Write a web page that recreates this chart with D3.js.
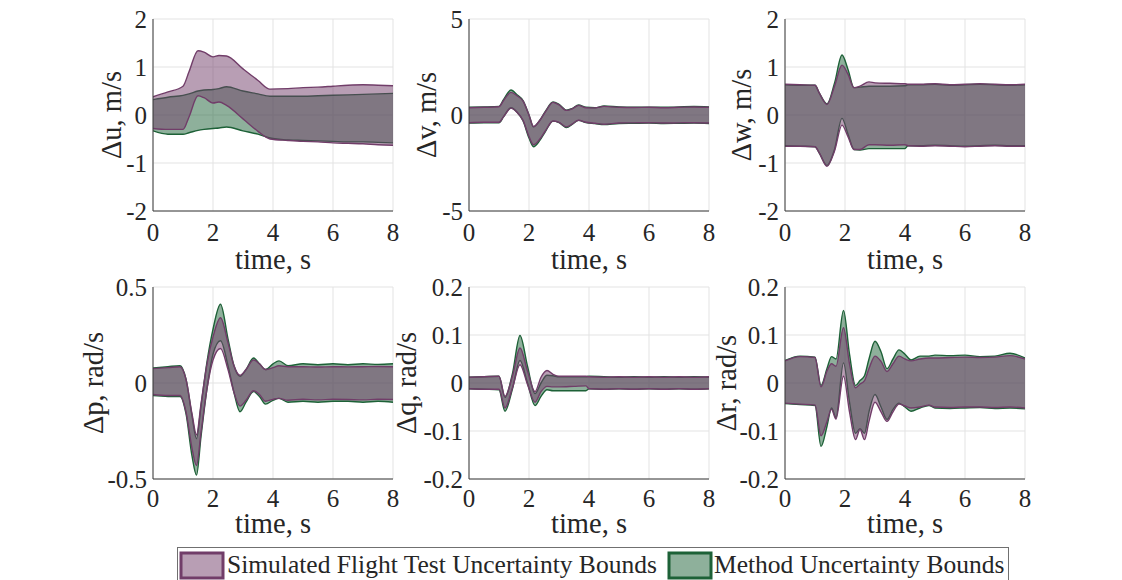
<!DOCTYPE html>
<html>
<head>
<meta charset="utf-8">
<script src="https://cdn.jsdelivr.net/npm/d3@7"></script>
<style>
  html, body { margin: 0; padding: 0; background: #ffffff; }
  svg { display: block; font-family: "Liberation Serif", "Times New Roman", serif; }
</style>
</head>
<body>
<svg id="chart" width="1122" height="580"></svg>
<script>
// ---- shared axis ticks ----
const xTicks = [0, 2, 4, 6, 8];
const xDomain = [0, 8];

// ---- Δu, m/s ----
const uTicks = [-2, -1, 0, 1, 2];
const uTime  = [0, 0.5, 1.0, 1.2, 1.5, 1.7, 2.0, 2.2, 2.45, 3.0, 3.5, 3.9, 4.5, 5, 5.5, 6, 6.5, 7, 7.5, 8];
const uSimHi = [0.38, 0.48, 0.60, 0.90, 1.34, 1.31, 1.21, 1.24, 1.23, 0.96, 0.72, 0.54, 0.55, 0.57, 0.58, 0.60, 0.62, 0.63, 0.62, 0.61];
const uSimLo = [-0.28, -0.30, -0.30, -0.04, 0.40, 0.36, 0.25, 0.27, 0.20, -0.08, -0.34, -0.50, -0.53, -0.55, -0.56, -0.58, -0.59, -0.60, -0.62, -0.63];
const uMetHi = [0.32, 0.37, 0.41, 0.44, 0.50, 0.52, 0.53, 0.55, 0.59, 0.50, 0.44, 0.39, 0.39, 0.39, 0.40, 0.41, 0.42, 0.43, 0.44, 0.45];
const uMetLo = [-0.33, -0.40, -0.40, -0.37, -0.32, -0.30, -0.28, -0.27, -0.25, -0.33, -0.40, -0.48, -0.52, -0.53, -0.54, -0.55, -0.56, -0.56, -0.57, -0.58];

// ---- Δv, m/s ----
const vTicks = [-5, 0, 5];
const vTime  = [0, 0.5, 1.0, 1.15, 1.4, 1.6, 1.8, 2.0, 2.15, 2.35, 2.55, 2.8, 3.0, 3.25, 3.45, 3.65, 3.9, 4.2, 4.5, 5, 5.5, 6, 6.5, 7, 7.5, 8];
const vSimHi = [0.38, 0.40, 0.43, 0.75, 1.18, 1.00, 0.73, 0.00, -0.60, -0.30, 0.18, 0.66, 0.53, 0.24, 0.33, 0.50, 0.38, 0.37, 0.45, 0.40, 0.39, 0.40, 0.38, 0.40, 0.42, 0.40];
const vSimLo = [-0.40, -0.38, -0.38, -0.10, 0.36, 0.14, -0.28, -1.12, -1.55, -1.28, -0.82, -0.31, -0.38, -0.62, -0.46, -0.27, -0.38, -0.43, -0.48, -0.42, -0.41, -0.40, -0.42, -0.41, -0.40, -0.42];
const vMetHi = [0.40, 0.42, 0.45, 0.80, 1.30, 1.05, 0.75, 0.00, -0.62, -0.30, 0.20, 0.68, 0.55, 0.25, 0.35, 0.52, 0.40, 0.38, 0.47, 0.42, 0.40, 0.41, 0.40, 0.42, 0.44, 0.42];
const vMetLo = [-0.42, -0.40, -0.40, -0.10, 0.38, 0.15, -0.30, -1.20, -1.65, -1.35, -0.85, -0.32, -0.40, -0.65, -0.48, -0.28, -0.40, -0.45, -0.50, -0.44, -0.43, -0.42, -0.44, -0.43, -0.42, -0.44];

// ---- Δw, m/s ----
const wTicks = [-2, -1, 0, 1, 2];
const wTime  = [0, 0.5, 1.0, 1.15, 1.4, 1.65, 1.9, 2.1, 2.3, 2.5, 2.8, 3.0, 3.5, 4.0, 4.1, 4.5, 5, 5.5, 6, 6.5, 7, 7.5, 8];
const wSimHi = [0.64, 0.63, 0.62, 0.45, 0.22, 0.60, 1.04, 0.85, 0.57, 0.60, 0.69, 0.67, 0.66, 0.65, 0.64, 0.64, 0.65, 0.63, 0.64, 0.65, 0.64, 0.63, 0.64];
const wSimLo = [-0.65, -0.65, -0.66, -0.80, -1.07, -0.75, -0.21, -0.45, -0.72, -0.72, -0.62, -0.62, -0.63, -0.62, -0.64, -0.65, -0.64, -0.65, -0.66, -0.65, -0.64, -0.65, -0.65];
const wMetHi = [0.63, 0.62, 0.62, 0.45, 0.23, 0.66, 1.25, 0.95, 0.57, 0.58, 0.60, 0.60, 0.60, 0.61, 0.63, 0.63, 0.64, 0.62, 0.63, 0.64, 0.63, 0.62, 0.63];
const wMetLo = [-0.64, -0.65, -0.66, -0.80, -1.05, -0.72, -0.07, -0.40, -0.72, -0.73, -0.70, -0.70, -0.70, -0.70, -0.64, -0.64, -0.63, -0.64, -0.65, -0.64, -0.63, -0.64, -0.64];

// ---- Δp, rad/s ----
const pTicks = [-0.5, 0, 0.5];
const pTime  = [0, 0.5, 0.9, 1.1, 1.3, 1.45, 1.6, 1.8, 2.0, 2.25, 2.5, 2.7, 2.9, 3.1, 3.35, 3.55, 3.75, 4.0, 4.2, 4.5, 5, 5.5, 6, 6.5, 7, 7.5, 8];
const pSimHi = [0.075, 0.08, 0.085, 0.02, -0.16, -0.27, -0.11, 0.10, 0.24, 0.34, 0.21, 0.09, 0.04, 0.07, 0.12, 0.10, 0.07, 0.08, 0.09, 0.085, 0.085, 0.083, 0.085, 0.084, 0.085, 0.086, 0.085];
const pSimLo = [-0.06, -0.065, -0.065, -0.15, -0.34, -0.43, -0.26, -0.03, 0.12, 0.18, 0.07, -0.05, -0.12, -0.09, -0.04, -0.06, -0.095, -0.085, -0.08, -0.09, -0.085, -0.088, -0.085, -0.086, -0.088, -0.085, -0.086];
const pMetHi = [0.078, 0.085, 0.09, 0.02, -0.17, -0.29, -0.12, 0.11, 0.28, 0.41, 0.23, 0.09, 0.035, 0.07, 0.13, 0.10, 0.07, 0.10, 0.115, 0.09, 0.10, 0.095, 0.10, 0.095, 0.10, 0.097, 0.10];
const pMetLo = [-0.066, -0.07, -0.07, -0.16, -0.38, -0.48, -0.28, -0.03, 0.15, 0.22, 0.09, -0.05, -0.15, -0.10, -0.045, -0.07, -0.11, -0.09, -0.08, -0.10, -0.095, -0.10, -0.095, -0.095, -0.10, -0.095, -0.10];

// ---- Δq, rad/s ----
const qTicks = [-0.2, -0.1, 0, 0.1, 0.2];
const qTime  = [0, 0.5, 1.0, 1.2, 1.45, 1.7, 1.95, 2.2, 2.4, 2.6, 2.8, 3.0, 3.5, 3.9, 4.0, 4.5, 5, 5.5, 6, 6.5, 7, 7.5, 8];
const qSimHi = [0.012, 0.013, 0.014, -0.028, 0.015, 0.073, 0.025, -0.018, 0.012, 0.026, 0.018, 0.014, 0.014, 0.014, 0.013, 0.012, 0.013, 0.012, 0.013, 0.012, 0.013, 0.012, 0.013];
const qSimLo = [-0.012, -0.013, -0.013, -0.052, -0.010, 0.038, -0.003, -0.040, -0.018, -0.007, -0.008, -0.008, -0.007, -0.006, -0.012, -0.013, -0.012, -0.013, -0.012, -0.013, -0.012, -0.013, -0.012];
const qMetHi = [0.012, 0.013, 0.014, -0.030, 0.020, 0.099, 0.035, -0.022, 0.000, 0.016, 0.015, 0.013, 0.013, 0.013, 0.014, 0.013, 0.012, 0.013, 0.012, 0.013, 0.012, 0.013, 0.012];
const qMetLo = [-0.012, -0.013, -0.014, -0.059, -0.012, 0.047, 0.000, -0.047, -0.028, -0.014, -0.016, -0.016, -0.016, -0.016, -0.012, -0.013, -0.012, -0.013, -0.012, -0.013, -0.012, -0.013, -0.012];

// ---- Δr, rad/s ----
const rTicks = [-0.2, -0.1, 0, 0.1, 0.2];
const rTime  = [0, 0.5, 1.0, 1.2, 1.4, 1.55, 1.7, 1.95, 2.15, 2.35, 2.5, 2.65, 2.8, 3.0, 3.2, 3.4, 3.6, 3.8, 4.0, 4.2, 4.5, 4.8, 5, 5.5, 6, 6.5, 7, 7.5, 8];
const rSimHi = [0.046, 0.055, 0.053, -0.008, 0.025, 0.040, 0.035, 0.115, 0.040, -0.010, -0.002, 0.005, 0.030, 0.056, 0.045, 0.024, 0.040, 0.056, 0.050, 0.046, 0.050, 0.052, 0.052, 0.053, 0.054, 0.053, 0.054, 0.057, 0.050];
const rSimLo = [-0.042, -0.044, -0.046, -0.110, -0.080, -0.055, -0.075, 0.014, -0.060, -0.118, -0.097, -0.118, -0.080, -0.040, -0.060, -0.080, -0.060, -0.044, -0.048, -0.052, -0.050, -0.046, -0.050, -0.051, -0.050, -0.050, -0.051, -0.050, -0.052];
const rMetHi = [0.047, 0.056, 0.054, -0.005, 0.030, 0.055, 0.050, 0.151, 0.060, -0.005, 0.005, 0.015, 0.050, 0.087, 0.065, 0.030, 0.050, 0.069, 0.060, 0.048, 0.056, 0.056, 0.058, 0.057, 0.058, 0.055, 0.056, 0.062, 0.052];
const rMetLo = [-0.043, -0.045, -0.047, -0.132, -0.090, -0.052, -0.072, 0.042, -0.040, -0.105, -0.095, -0.105, -0.060, -0.024, -0.050, -0.076, -0.055, -0.042, -0.050, -0.059, -0.052, -0.047, -0.052, -0.053, -0.052, -0.051, -0.053, -0.052, -0.054];

// ---- legend entries ----
const legendLabels = ["Simulated Flight Test Uncertainty Bounds", "Method Uncertainty Bounds"];

// ---- styling ----
const simColor = "#713d69";   // purple, drawn on top
const metColor = "#1d6137";   // green, drawn underneath
const fillAlpha = 0.5;
const tickFont = 25;
const labelFont = 28.5;

const panels = [
  { label: "Δu, m/s",   t: uTime, sim: [uSimLo, uSimHi], met: [uMetLo, uMetHi], yDomain: [-2, 2],     yTicks: uTicks, col: 0, row: 0 },
  { label: "Δv, m/s",   t: vTime, sim: [vSimLo, vSimHi], met: [vMetLo, vMetHi], yDomain: [-5, 5],     yTicks: vTicks, col: 1, row: 0 },
  { label: "Δw, m/s",   t: wTime, sim: [wSimLo, wSimHi], met: [wMetLo, wMetHi], yDomain: [-2, 2],     yTicks: wTicks, col: 2, row: 0 },
  { label: "Δp, rad/s", t: pTime, sim: [pSimLo, pSimHi], met: [pMetLo, pMetHi], yDomain: [-0.5, 0.5], yTicks: pTicks, col: 0, row: 1 },
  { label: "Δq, rad/s", t: qTime, sim: [qSimLo, qSimHi], met: [qMetLo, qMetHi], yDomain: [-0.2, 0.2], yTicks: qTicks, col: 1, row: 1 },
  { label: "Δr, rad/s", t: rTime, sim: [rSimLo, rSimHi], met: [rMetLo, rMetHi], yDomain: [-0.2, 0.2], yTicks: rTicks, col: 2, row: 1 }
];

const colLeft = [153, 469, 785];
const rowTop = [19, 287];
const W = 240, H = 192;
const labelGap = [[32, 33, 34], [50, 53, 49]];
const tickBaseline = [30, 28];
const titleBaseline = [58, 54];

const svg = d3.select("#chart");
const fmt = v => String(v);

panels.forEach((p, i) => {
  const x0 = colLeft[p.col], y0 = rowTop[p.row];
  const g = svg.append("g").attr("transform", `translate(${x0},${y0})`);
  const x = d3.scaleLinear().domain(xDomain).range([0, W]);
  const y = d3.scaleLinear().domain(p.yDomain).range([H, 0]);

  // grid
  g.append("g").selectAll("line").data(xTicks).join("line")
    .attr("x1", d => x(d)).attr("x2", d => x(d)).attr("y1", 0).attr("y2", H)
    .attr("stroke", "#e3e3e3").attr("stroke-width", 1);
  g.append("g").selectAll("line").data(p.yTicks).join("line")
    .attr("x1", 0).attr("x2", W).attr("y1", d => y(d)).attr("y2", d => y(d))
    .attr("stroke", "#e3e3e3").attr("stroke-width", 1);

  const clipId = "clip" + i;
  g.append("clipPath").attr("id", clipId).append("rect").attr("width", W).attr("height", H);
  const plot = g.append("g").attr("clip-path", `url(#${clipId})`);

  const drawBand = (lo, hi, color) => {
    const idx = d3.range(p.t.length);
    const area = d3.area().curve(d3.curveMonotoneX)
      .x(k => x(p.t[k])).y0(k => y(lo[k])).y1(k => y(hi[k]));
    plot.append("path").attr("d", area(idx))
      .attr("fill", color).attr("fill-opacity", fillAlpha).attr("stroke", "none");
    const lineHi = d3.line().curve(d3.curveMonotoneX).x(k => x(p.t[k])).y(k => y(hi[k]));
    const lineLo = d3.line().curve(d3.curveMonotoneX).x(k => x(p.t[k])).y(k => y(lo[k]));
    [lineHi, lineLo].forEach(l => plot.append("path").attr("d", l(idx))
      .attr("fill", "none").attr("stroke", color).attr("stroke-width", 1.4)
      .attr("stroke-linejoin", "round"));
  };
  drawBand(p.met[0], p.met[1], metColor);
  drawBand(p.sim[0], p.sim[1], simColor);

  // axes lines (left and bottom)
  g.append("line").attr("x1", 0).attr("x2", 0).attr("y1", 0).attr("y2", H)
    .attr("stroke", "#3a3a3a").attr("stroke-width", 1);
  g.append("line").attr("x1", 0).attr("x2", W).attr("y1", H).attr("y2", H)
    .attr("stroke", "#3a3a3a").attr("stroke-width", 1);

  // tick labels
  g.append("g").selectAll("text").data(xTicks).join("text")
    .attr("x", d => x(d)).attr("y", H + tickBaseline[p.row])
    .attr("text-anchor", "middle").attr("font-size", tickFont).attr("fill", "#262626")
    .text(fmt);
  g.append("g").selectAll("text").data(p.yTicks).join("text")
    .attr("x", -6).attr("y", d => y(d)).attr("dy", "0.34em")
    .attr("text-anchor", "end").attr("font-size", tickFont).attr("fill", "#262626")
    .text(fmt);

  // axis titles
  g.append("text").attr("x", W / 2).attr("y", H + titleBaseline[p.row])
    .attr("text-anchor", "middle").attr("font-size", labelFont).attr("fill", "#262626")
    .text("time, s");
  const lx = -labelGap[p.row][p.col];
  g.append("text").attr("transform", `translate(${lx},${H / 2}) rotate(-90)`)
    .attr("text-anchor", "middle").attr("font-size", labelFont).attr("fill", "#262626")
    .text(p.label);
});

// legend
const lg = svg.append("g");
lg.append("rect").attr("x", 177.5).attr("y", 547.5).attr("width", 831).attr("height", 40)
  .attr("fill", "#ffffff").attr("stroke", "#707070").attr("stroke-width", 1);
const legendItems = [
  { label: legendLabels[0], color: simColor, sx: 181, tx: 227 },
  { label: legendLabels[1], color: metColor, sx: 669, tx: 714 }
];
legendItems.forEach(it => {
  lg.append("rect").attr("x", it.sx).attr("y", 553).attr("width", 42).attr("height", 25)
    .attr("fill", it.color).attr("fill-opacity", fillAlpha)
    .attr("stroke", it.color).attr("stroke-width", 3);
  lg.append("text").attr("x", it.tx).attr("y", 573).attr("font-size", 25.5).attr("fill", "#262626")
    .text(it.label);
});
</script>
</body>
</html>
